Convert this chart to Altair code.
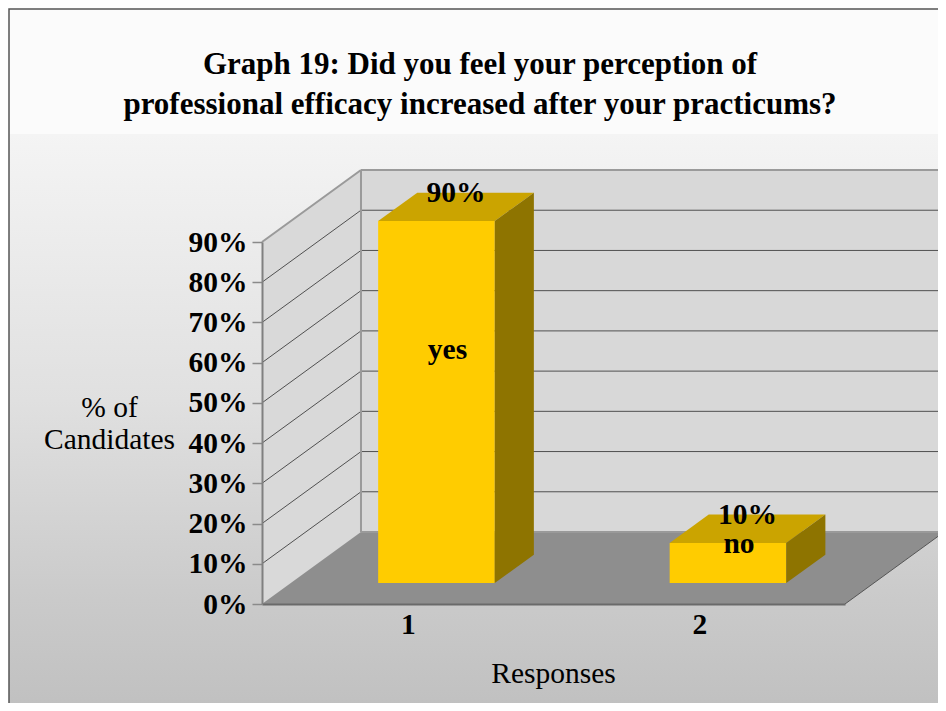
import altair as alt
import pandas as pd

# ---------------- data ----------------
categories = [1, 2]
values = [0.90, 0.10]
names = ["yes", "no"]
y_ticks = [0.0, 0.1, 0.2, 0.3, 0.4, 0.5, 0.6, 0.7, 0.8, 0.9]
x_ticks = [1, 2]
title_lines = ["Graph 19: Did you feel your perception of",
               "professional efficacy increased after your practicums?"]
y_title = ["% of", "Candidates"]
x_title = "Responses"

# ---------------- layout of the oblique 3-D projection (scale units) ----------------
X0, X1 = 0.5, 2.5          # front edge of the floor
Y0, Y1 = 0.0, 0.9          # value range
DX, DY = 0.3396, 0.179     # depth vector (full floor depth) in x / y scale units
D_FRONT, D_BACK = 0.29, 0.685   # bar front / back depth (fraction of floor depth)
HALF_W = 0.2               # half bar width
NAME_LABEL_H = [0.557, 0.075]   # height of the name label inside each bar
FONT = "Liberation Serif"
FS = 29.5

xs = alt.Scale(domain=[X0, X1], nice=False, zero=False)
ys = alt.Scale(domain=[Y0, Y1], nice=False, zero=False)

xaxis = alt.Axis(values=x_ticks, format="d", title=x_title, grid=False,
                 labelFont=FONT, labelFontSize=FS, labelFontWeight="bold", labelColor="black",
                 labelBaseline="alphabetic", labelPadding=29, labelFlush=False,
                 ticks=False, tickSize=0, domainColor="#6a6a6a", domainWidth=2,
                 titleFont=FONT, titleFontSize=FS, titleFontWeight="normal", titleColor="black",
                 titleBaseline="alphabetic", titleX=291, titleY=78, zindex=1)
yaxis = alt.Axis(values=y_ticks, format=".0%", title=y_title, grid=False,
                 labelFont=FONT, labelFontSize=FS, labelFontWeight="bold", labelColor="black",
                 labelPadding=5, labelOverlap=False, labelFlush=False,
                 tickSize=10, tickColor="#8a8a8a", tickWidth=1.5,
                 domainColor="#808080", domainWidth=2,
                 titleFont=FONT, titleFontSize=FS, titleFontWeight="normal", titleColor="black",
                 titleAngle=0, titleAlign="center", titleBaseline="alphabetic",
                 titleX=-153, titleY=174, titleLineHeight=32, zindex=1)


def X(f):
    return alt.X(f, type="quantitative", scale=xs, axis=xaxis)


def Y(f):
    return alt.Y(f, type="quantitative", scale=ys, axis=yaxis, stack=None)


# ---------------- tables built from the arrays ----------------
left_wall = pd.DataFrame({"x": [X0, X0 + DX], "y": [Y0, Y0 + DY], "y2": [Y1, Y1 + DY]})
back_wall = pd.DataFrame({"x": [X0 + DX], "x2": [X1 + DX], "y": [Y0 + DY], "y2": [Y1 + DY]})
floor = pd.DataFrame({"y": [Y0, Y0 + DY], "x": [X0, X0 + DX], "x2": [X1, X1 + DX]})

inner = [t for t in y_ticks if Y0 < t < Y1]
grid_back = pd.DataFrame({"x": [X0 + DX] * len(inner), "x2": [X1 + DX] * len(inner),
                          "y": [t + DY for t in inner], "y2": [t + DY for t in inner]})
grid_left = pd.DataFrame({"x": [X0] * len(inner), "x2": [X0 + DX] * len(inner),
                          "y": inner, "y2": [t + DY for t in inner]})

light_edges = pd.DataFrame([
    {"x": X0, "y": Y1, "x2": X0 + DX, "y2": Y1 + DY},
    {"x": X0 + DX, "y": Y1 + DY, "x2": X1 + DX, "y2": Y1 + DY},
    {"x": X0 + DX, "y": Y0 + DY, "x2": X0 + DX, "y2": Y1 + DY},
    {"x": X1 + DX, "y": Y0 + DY, "x2": X1 + DX, "y2": Y1 + DY},
    {"x": X0 + DX, "y": Y0 + DY, "x2": X1 + DX, "y2": Y0 + DY},
])
dark_edges = pd.DataFrame([{"x": X1, "y": Y0, "x2": X1 + DX, "y2": Y0 + DY}])

front_rows, top_rows, side_rows, vlab_rows, nlab_rows = [], [], [], [], []
for c, v, n, h in zip(categories, values, names, NAME_LABEL_H):
    front_rows.append({"cat": c, "x": c - HALF_W + D_FRONT * DX, "x2": c + HALF_W + D_FRONT * DX,
                       "y": D_FRONT * DY, "y2": D_FRONT * DY + v})
    for d in (D_FRONT, D_BACK):
        top_rows.append({"cat": c, "y": d * DY + v,
                         "x": c - HALF_W + d * DX, "x2": c + HALF_W + d * DX})
        side_rows.append({"cat": c, "x": c + HALF_W + d * DX, "y": d * DY, "y2": d * DY + v})
    mid = (D_FRONT + D_BACK) / 2
    vlab_rows.append({"cat": c, "x": c + mid * DX, "y": v + mid * DY, "label": f"{round(v * 100)}%"})
    nlab_rows.append({"cat": c, "x": c + D_FRONT * DX, "y": D_FRONT * DY + h, "label": n})

bars_front = pd.DataFrame(front_rows)
bars_top = pd.DataFrame(top_rows)
bars_side = pd.DataFrame(side_rows)
value_labels = pd.DataFrame(vlab_rows)
name_labels = pd.DataFrame(nlab_rows)

# ---------------- layers ----------------
bg = alt.Chart(pd.DataFrame({"a": [0]})).mark_rect(
    fill=alt.Gradient(gradient="linear", x1=0, y1=0, x2=0, y2=1, stops=[
        alt.GradientStop(color="#fbfbfb", offset=0),
        alt.GradientStop(color="#fbfbfb", offset=0.175),
        alt.GradientStop(color="#f4f4f4", offset=0.176),
        alt.GradientStop(color="#e0e0e0", offset=0.548),
        alt.GradientStop(color="#cacaca", offset=0.829),
        alt.GradientStop(color="#bfbfbf", offset=1.0),
    ]),
    stroke="#555555", strokeWidth=1.5,
).encode(x=alt.value(-253), x2=alt.value(700), y=alt.value(-233), y2=alt.value(480))

title = alt.Chart(pd.DataFrame({"a": [0]})).mark_text(
    text=title_lines, font=FONT, fontSize=31, fontWeight="bold", color="black",
    lineHeight=40, align="center", baseline="alphabetic",
).encode(x=alt.value(218), y=alt.value(-168))

lw = alt.Chart(left_wall).mark_area(orient="vertical", color="#d9d9d9").encode(
    x=X("x"), y=Y("y"), y2="y2")
bw = alt.Chart(back_wall).mark_rect(color="#d8d8d8").encode(
    x=X("x"), x2="x2", y=Y("y"), y2="y2")
gb = alt.Chart(grid_back).mark_rule(color="#505050", strokeWidth=1).encode(
    x=X("x"), x2="x2", y=Y("y"), y2="y2")
gl = alt.Chart(grid_left).mark_rule(color="#505050", strokeWidth=1).encode(
    x=X("x"), x2="x2", y=Y("y"), y2="y2")
fl = alt.Chart(floor).mark_area(orient="horizontal", color="#8e8e8e").encode(
    y=Y("y"), x=X("x"), x2="x2")
le = alt.Chart(light_edges).mark_rule(color="#9a9a9a", strokeWidth=2).encode(
    x=X("x"), x2="x2", y=Y("y"), y2="y2")
de = alt.Chart(dark_edges).mark_rule(color="#555555", strokeWidth=1).encode(
    x=X("x"), x2="x2", y=Y("y"), y2="y2")

bf = alt.Chart(bars_front).mark_rect(color="#ffcc00").encode(
    x=X("x"), x2="x2", y=Y("y"), y2="y2")
bt = alt.Chart(bars_top).mark_area(orient="horizontal", color="#cba400").encode(
    y=Y("y"), x=X("x"), x2="x2", detail="cat:N")
bs = alt.Chart(bars_side).mark_area(orient="vertical", color="#8e7400").encode(
    x=X("x"), y=Y("y"), y2="y2", detail="cat:N")

vl = alt.Chart(value_labels).mark_text(
    font=FONT, fontSize=FS, fontWeight="bold", color="black",
    align="center", baseline="alphabetic", dy=-5,
).encode(x=X("x"), y=Y("y"), text="label:N")
nl = alt.Chart(name_labels).mark_text(
    font=FONT, fontSize=FS, fontWeight="bold", color="black",
    align="center", baseline="alphabetic", dx=11,
).encode(x=X("x"), y=Y("y"), text="label:N")

chart = alt.layer(bg, title, lw, bw, gb, gl, fl, le, de, bf, bt, bs, vl, nl).properties(
    width=583, height=362,
    autosize=alt.AutoSizeParams(type="none"),
    padding={"left": 254, "top": 234, "right": 93, "bottom": 99},
).configure_view(stroke=None).configure(background="#ffffff")

chart.save("out.html", embed_options={"renderer": "svg", "actions": False})
